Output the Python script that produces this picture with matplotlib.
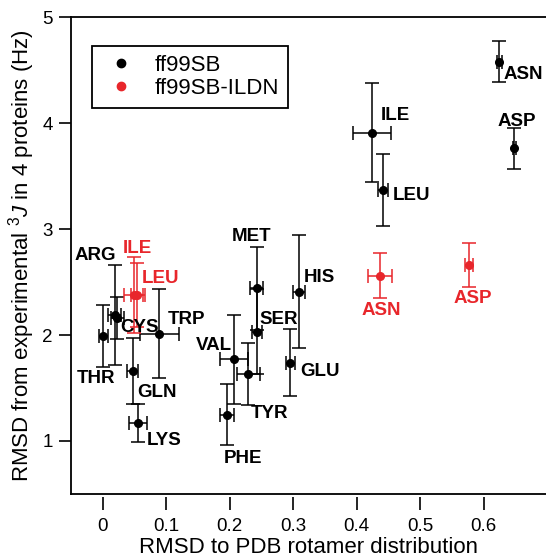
import matplotlib

matplotlib.use("Agg")
import matplotlib.pyplot as plt
from matplotlib.lines import Line2D

plt.rcParams["font.family"] = ["Liberation Sans", "DejaVu Sans"]
plt.rcParams["mathtext.fontset"] = "custom"
plt.rcParams["mathtext.rm"] = "Liberation Sans"
plt.rcParams["mathtext.it"] = "Liberation Sans:italic"

# ff99SB
black_names = ["ARG", "CYS", "THR", "GLN", "LYS", "TRP", "VAL", "TYR", "PHE",
               "MET", "SER", "HIS", "GLU", "ILE", "LEU", "ASN", "ASP"]
black_x = [0.019, 0.023, 0.001, 0.047, 0.055, 0.089, 0.207, 0.229, 0.195,
           0.2425, 0.2425, 0.309, 0.295, 0.4246, 0.441, 0.6246, 0.648]
black_xerr = [0.010, 0.010, 0.007, 0.009, 0.014, 0.031, 0.022, 0.018, 0.011,
              0.010, 0.008, 0.009, 0.007, 0.030, 0.008, 0.004, 0.002]
black_y = [2.19, 2.16, 1.99, 1.66, 1.17, 2.01, 1.77, 1.63, 1.25,
           2.44, 2.03, 2.41, 1.74, 3.91, 3.37, 4.58, 3.76]
black_yerr = [0.47, 0.20, 0.29, 0.31, 0.18, 0.42, 0.42, 0.29, 0.29,
              0.39, 0.40, 0.53, 0.32, 0.47, 0.34, 0.19, 0.19]

# ff99SB-ILDN
red_names = ["ILE", "LEU", "ASN", "ASP"]
red_x = [0.050, 0.054, 0.4367, 0.577]
red_xerr = [0.017, 0.010, 0.019, 0.006]
red_y = [2.38, 2.38, 2.56, 2.66]
red_yerr = [0.36, 0.30, 0.215, 0.21]

# label offsets (pixels) from each point
black_offsets = [(-19.5, 59), (22, -9), (-7, -42), (24.7, -21), (26.6, -18),
                 (27.7, 14.5), (-20.6, 13.6), (21.4, -39), (16.3, -43.5),
                 (-5.4, 52), (22, 12.5), (20.5, 14), (29.7, -9.3),
                 (23, 17.5), (29, -5.7), (23.7, -13), (2.7, 26.6)]
red_offsets = [(3.2, 46), (23.8, 16.7), (1.7, -35), (3.7, -33.7)]

RED = "#e8262b"

fig = plt.figure(figsize=(5.46, 5.58), dpi=100)
ax = fig.add_axes([0.1295, 0.1147, 0.8705, 0.8548])

style = dict(fmt="o", markersize=5.5, elinewidth=1.1, capsize=5, capthick=1.1)
ax.errorbar(black_x, black_y, xerr=black_xerr, yerr=black_yerr,
            color="black", ecolor="black", **style)
ax.errorbar(red_x, red_y, xerr=red_xerr, yerr=red_yerr,
            color=RED, ecolor=RED, **style)

for name, x, y, off in zip(black_names, black_x, black_y, black_offsets):
    ax.annotate(name, (x, y), xytext=off, textcoords="offset pixels",
                ha="center", va="center", fontsize=13.5, fontweight="bold",
                color="black")
for name, x, y, off in zip(red_names, red_x, red_y, red_offsets):
    ax.annotate(name, (x, y), xytext=off, textcoords="offset pixels",
                ha="center", va="center", fontsize=13.5, fontweight="bold",
                color=RED)

ax.set_xlim(-0.0504, 0.698)
ax.set_ylim(0.5, 5)
ax.set_xticks([0, 0.1, 0.2, 0.3, 0.4, 0.5, 0.6])
ax.set_xticklabels(["0", "0.1", "0.2", "0.3", "0.4", "0.5", "0.6"])
ax.set_yticks([1, 2, 3, 4, 5])

for side in ["left", "top", "bottom"]:
    ax.spines[side].set_linewidth(1.3)
ax.spines["right"].set_visible(False)
# igor-style: bottom ticks sit slightly below the frame
ax.spines["bottom"].set_position(("outward", 2))
ax.spines["bottom"].set_color("none")
ax.axhline(0.5, color="black", linewidth=1.3, clip_on=False)

ax.tick_params(axis="both", direction="out", length=9, width=1.2,
               labelsize=13.5)
ax.tick_params(axis="x", pad=6)
ax.tick_params(axis="y", pad=4)

ax.set_xlabel("RMSD to PDB rotamer distribution", fontsize=16, labelpad=2)
ax.set_ylabel(r"RMSD from experimental $^{3}\mathit{J}$ in 4 proteins (Hz)",
              fontsize=16, labelpad=4)

handles = [
    Line2D([], [], marker="o", linestyle="none", color="black", markersize=6),
    Line2D([], [], marker="o", linestyle="none", color=RED, markersize=6),
]
leg = ax.legend(handles, ["ff99SB", "ff99SB-ILDN"], loc="upper left",
                bbox_to_anchor=(0.0448, 0.939), fontsize=16, frameon=True,
                fancybox=False, edgecolor="black", framealpha=1,
                handletextpad=0.6, handlelength=1.8, labelspacing=0.1,
                borderpad=0.4, borderaxespad=0)
leg.get_frame().set_linewidth(1.3)

fig.savefig("out.png", dpi=100)
